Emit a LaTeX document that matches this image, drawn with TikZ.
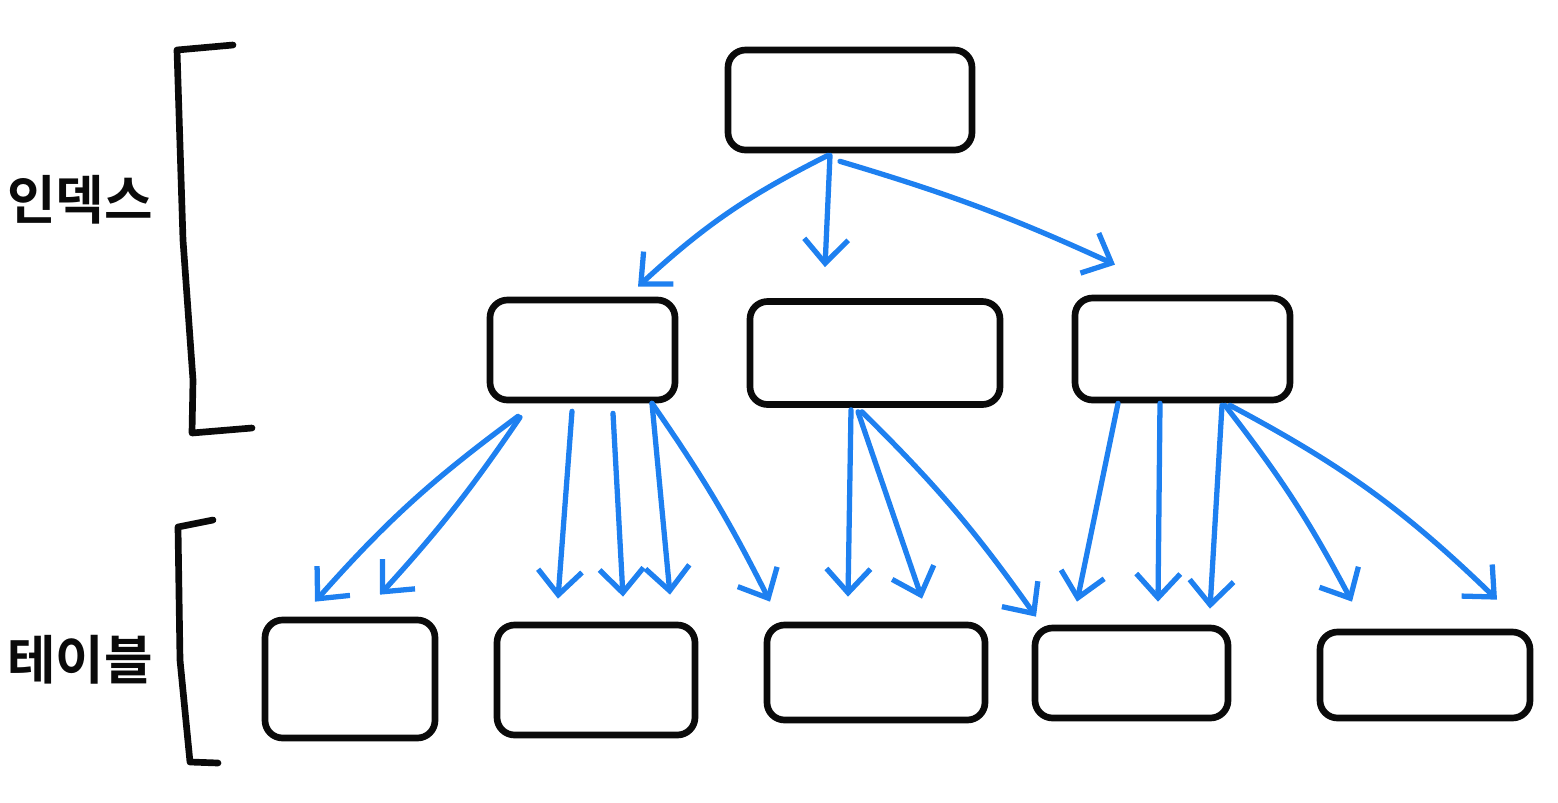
\documentclass[tikz,border=0pt]{standalone}
\usepackage{fontspec}
\newfontfamily\krfont{Noto Sans CJK KR}[BoldFont={* Bold}]
\usetikzlibrary{arrows.meta,positioning,calc}
\definecolor{ink}{HTML}{0A0A0A}
\definecolor{pen}{HTML}{1E80F0}

\begin{document}
\begin{tikzpicture}[
  box/.style={draw=ink,line width=1.9pt,rounded corners=5pt,inner sep=0pt},
  link/.style={draw=pen,line width=1.5pt,line cap=round,
    -{Straight Barb[length=2.4mm,width=4.4mm,line width=1.5pt]}},
  brk/.style={draw=ink,line width=1.9pt,line cap=round,line join=round},
  lbl/.style={font=\krfont\bfseries\fontsize{15}{18}\selectfont,text=ink}]
\useasboundingbox (0,0) rectangle (15.58,-8.02);
\node[box,minimum width=2.44cm,minimum height=1.0cm] (r) at (8.5,-1.0) {};
\node[box,minimum width=1.85cm,minimum height=1.0cm] (m1) at (5.825,-3.5) {};
\node[box,minimum width=2.5cm,minimum height=1.03cm] (m2) at (8.75,-3.53) {};
\node[box,minimum width=2.15cm,minimum height=1.02cm] (m3) at (11.825,-3.49) {};
\node[box,minimum width=1.7cm,minimum height=1.18cm] (b1) at (3.5,-6.79) {};
\node[box,minimum width=1.98cm,minimum height=1.1cm] (b2) at (5.96,-6.8) {};
\node[box,minimum width=2.18cm,minimum height=0.95cm] (b3) at (8.76,-6.725) {};
\node[box,minimum width=1.93cm,minimum height=0.9cm] (b4) at (11.315,-6.73) {};
\node[box,minimum width=2.1cm,minimum height=0.86cm] (b5) at (14.25,-6.75) {};
\draw[link] ([xshift=-0.22cm,yshift=-0.02cm]r.south) to[bend right=8] ([xshift=0.555cm,yshift=0.1cm]m1.north);
\draw[link] ([xshift=-0.2cm,yshift=-0.02cm]r.south) -- ([xshift=-0.5cm,yshift=0.31cm]m2.north);
\draw[link] ([xshift=-0.1cm,yshift=-0.08cm]r.south) to[bend left=4] ([xshift=-0.675cm,yshift=0.3cm]m3.north);
\draw[link] ([xshift=-0.645cm,yshift=-0.13cm]m1.south) to[bend right=6] ([xshift=-0.35cm,yshift=0.15cm]b1.north);
\draw[link] ([xshift=-0.625cm,yshift=-0.14cm]m1.south) to[bend left=4] ([xshift=0.3cm,yshift=0.22cm]b1.north);
\draw[link] ([xshift=-0.105cm,yshift=-0.08cm]m1.south) -- ([xshift=-0.38cm,yshift=0.23cm]b2.north);
\draw[link] ([xshift=0.305cm,yshift=-0.1cm]m1.south) -- ([xshift=0.27cm,yshift=0.25cm]b2.north);
\draw[link] ([xshift=0.695cm,yshift=0cm]m1.south) -- ([xshift=0.74cm,yshift=0.27cm]b2.north);
\draw[link] ([xshift=0.695cm,yshift=0cm]m1.south) to[bend left=4] ([xshift=-1.06cm,yshift=0.2cm]b3.north);
\draw[link] ([xshift=-0.24cm,yshift=-0.02cm]m2.south) -- ([xshift=-0.28cm,yshift=0.25cm]b3.north);
\draw[link] ([xshift=-0.17cm,yshift=-0.04cm]m2.south) -- ([xshift=0.46cm,yshift=0.23cm]b3.north);
\draw[link] ([xshift=-0.13cm,yshift=-0.04cm]m2.south) to[bend left=5] ([xshift=-0.955cm,yshift=0.08cm]b4.north);
\draw[link] ([xshift=-0.645cm,yshift=0cm]m3.south) -- ([xshift=-0.545cm,yshift=0.23cm]b4.north);
\draw[link] ([xshift=-0.225cm,yshift=0cm]m3.south) -- ([xshift=0.265cm,yshift=0.23cm]b4.north);
\draw[link] ([xshift=0.395cm,yshift=-0.02cm]m3.south) -- ([xshift=0.785cm,yshift=0.16cm]b4.north);
\draw[link] ([xshift=0.425cm,yshift=-0.02cm]m3.south) to[bend left=5] ([xshift=-0.73cm,yshift=0.27cm]b5.north);
\draw[link] ([xshift=0.475cm,yshift=-0.02cm]m3.south) to[bend left=8] ([xshift=0.72cm,yshift=0.29cm]b5.north);
\draw[brk] (2.33,-0.45) -- (1.77,-0.5) -- (1.83,-2.4) -- (1.93,-3.8) -- (1.92,-4.33) -- (2.52,-4.28);
\draw[brk] (2.13,-5.2) -- (1.78,-5.27) -- (1.80,-6.6) -- (1.90,-7.62) -- (2.18,-7.63);
\node[lbl] (idx) at (0.8,-2.0) {인덱스};
\node[lbl] (tbl) at (0.8,-6.6) {테이블};
\end{tikzpicture}
\end{document}
